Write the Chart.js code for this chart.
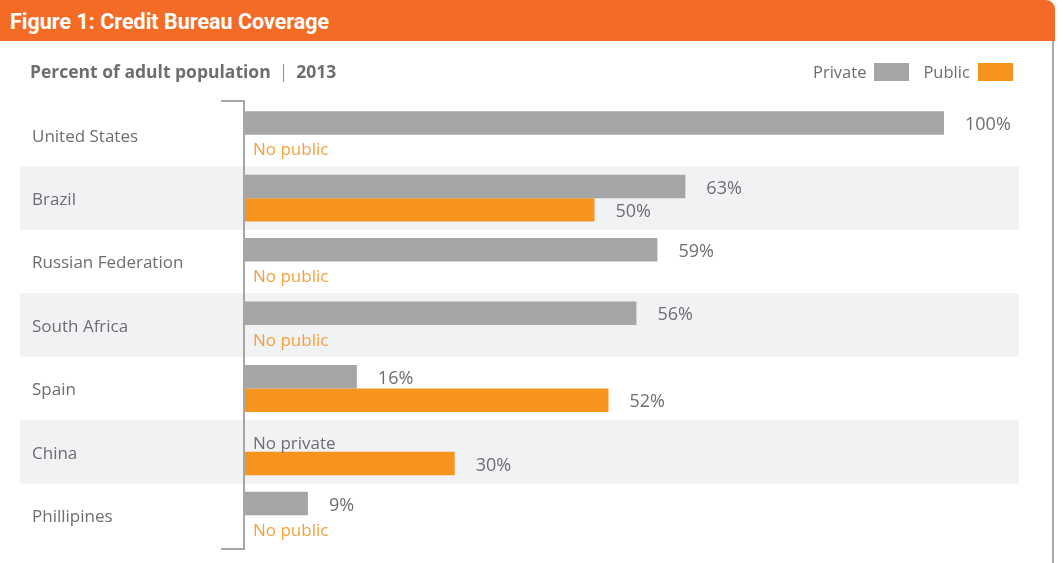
<!DOCTYPE html>
<html>
<head>
  <title>Credit Bureau Coverage</title>
  <style>
    body {
      margin: 0;
      background-color: #ffffff;
      font-family: "Open Sans", sans-serif;
    }

    .wrap {
      position: relative;
      width: 1063px;
      height: 563px;
      overflow: hidden;
    }

    .header {
      position: absolute;
      left: 0;
      top: 0;
      width: 1055px;
      height: 41px;
      background-color: #f36b24;
      border-top-right-radius: 9px;
      color: #ffffff;
      font-family: Roboto, sans-serif;
      font-weight: 700;
      font-size: 21.5px;
      line-height: 43px;
      padding-left: 10px;
      box-sizing: border-box;
    }

    .edge {
      position: absolute;
      left: 1052px;
      top: 41px;
      width: 2px;
      height: 522px;
      background-color: #a9a9a9;
    }

    .sub {
      position: absolute;
      left: 30px;
      top: 59px;
      color: #6d6e71;
      font-weight: 700;
      font-size: 17.5px;
    }

    .sub .sep {
      font-weight: 400;
      color: #9a9a9a;
      padding: 0 8px;
    }

    .legend {
      position: absolute;
      top: 60px;
      left: 813px;
      color: #6d6e71;
      font-size: 16.5px;
      display: flex;
      align-items: center;
    }

    .legend .box {
      display: inline-block;
      width: 35px;
      height: 18px;
      margin-left: 8px;
      margin-right: 14px;
    }

    canvas {
      position: absolute;
      left: 0;
      top: 0;
    }
  </style>
</head>
<body>
  <div class="wrap">
    <canvas id="grafico" width="1063" height="563"></canvas>
    <div class="header">Figure 1: Credit Bureau Coverage</div>
    <div class="edge"></div>
    <div class="sub">Percent of adult population<span class="sep">|</span>2013</div>
    <div class="legend">
      <span>Private</span><span class="box" style="background:#a5a5a5"></span>
      <span>Public</span><span class="box" style="background:#f7941e;margin-right:0"></span>
    </div>
  </div>

  <script src="https://cdn.jsdelivr.net/npm/chart.js"></script>
  <script>
    // dados
    var paises = ['United States', 'Brazil', 'Russian Federation', 'South Africa', 'Spain', 'China', 'Phillipines'];
    var privado = [100, 63, 59, 56, 16, null, 9];
    var publico = [null, 50, null, null, 52, 30, null];

    var corPrivado = '#a5a5a5';
    var corPublico = '#f7941e';
    var corTexto = '#6d6e71';

    // faixas cinza atras das linhas pares (antes dos eixos)
    var faixas = {
      id: 'faixas',
      beforeDraw: function (chart) {
        var ctx = chart.ctx;
        var area = chart.chartArea;
        var alt = (area.bottom - area.top) / paises.length;
        ctx.save();
        ctx.fillStyle = '#f1f2f4';
        for (var i = 1; i < paises.length; i += 2) {
          ctx.fillRect(20, area.top + alt * i, 999, alt);
        }
        // colchete
        ctx.strokeStyle = '#a6a6a6';
        ctx.lineWidth = 2;
        ctx.beginPath();
        ctx.moveTo(221, area.top - 2);
        ctx.lineTo(244, area.top - 2);
        ctx.lineTo(244, area.bottom + 2);
        ctx.lineTo(221, area.bottom + 2);
        ctx.stroke();
        ctx.restore();
      }
    };

    // rotulos de valor e "No public"/"No private"
    var rotulos = {
      id: 'rotulos',
      afterDatasetsDraw: function (chart) {
        var ctx = chart.ctx;
        var x0 = chart.scales.x.getPixelForValue(0);
        ctx.save();
        ctx.textBaseline = 'middle';
        ctx.textAlign = 'left';
        chart.data.datasets.forEach(function (ds, d) {
          var meta = chart.getDatasetMeta(d);
          meta.data.forEach(function (bar, i) {
            var v = ds.data[i];
            if (v === null) {
              ctx.font = '17px "Open Sans"';
              ctx.fillStyle = d === 0 ? corTexto : '#f6a03c';
              ctx.fillText(d === 0 ? 'No private' : 'No public', x0 + 8, bar.y + 4);
            } else {
              ctx.font = '18px "Open Sans"';
              ctx.fillStyle = corTexto;
              ctx.fillText(v + '%', bar.x + 21, bar.y + 2);
            }
          });
        });
        ctx.restore();
      }
    };

    new Chart(document.getElementById('grafico'), {
      type: 'bar',
      data: {
        labels: paises,
        datasets: [
          { label: 'Private', data: privado, backgroundColor: corPrivado },
          { label: 'Public', data: publico, backgroundColor: corPublico }
        ]
      },
      options: {
        indexAxis: 'y',
        responsive: false,
        animation: false,
        events: [],
        layout: { padding: { top: 103, bottom: 16, left: 32, right: 119 } },
        datasets: { bar: { categoryPercentage: 0.74, barPercentage: 1 } },
        scales: {
          x: { display: false, min: 0, max: 100 },
          y: {
            grid: { display: false },
            border: { display: false },
            afterFit: function (axis) { axis.width = 213; },
            ticks: {
              autoSkip: false,
              crossAlign: 'far',
              labelOffset: 2,
              color: corTexto,
              font: { family: 'Open Sans', size: 17 }
            }
          }
        },
        plugins: {
          legend: { display: false },
          tooltip: { enabled: false }
        }
      },
      plugins: [faixas, rotulos]
    });
  </script>
</body>
</html>
